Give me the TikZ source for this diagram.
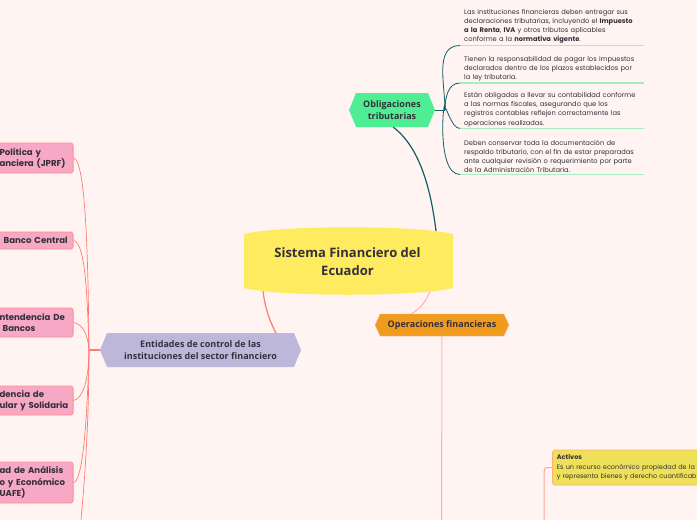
\documentclass[tikz,border=0pt]{standalone}
\usepackage{fontspec}
\setmainfont{Poppins}
\newfontfamily\titlefont{Open Sans}
\usetikzlibrary{shapes.symbols,backgrounds}
\definecolor{paper}{HTML}{FFF4F1}
\definecolor{ink}{HTML}{33303A}
\definecolor{teal}{HTML}{0F5F6B}
\definecolor{mint}{HTML}{A6EDC4}
\definecolor{redline}{HTML}{FF7B72}
\definecolor{paleline}{HTML}{FFB3AB}
\definecolor{pinkfill}{HTML}{F6A8C4}
\definecolor{greenfill}{HTML}{50EE94}
\definecolor{orangefill}{HTML}{F09A1E}
\definecolor{lilacfill}{HTML}{BDB8DA}
\definecolor{yellowfill}{HTML}{FFEB60}
\definecolor{activosfill}{HTML}{EFE05A}
\definecolor{activosline}{HTML}{FFB070}
\tikzset{
  hexbox/.style={shape=signal,signal to=east and west,signal pointer angle=135,inner sep=0pt,
    align=center,text=ink,font=\titlefont\bfseries\fontsize{9}{12}\selectfont},
  pinkbox/.style={draw=redline!85,fill=pinkfill,line width=0.8pt,rounded corners=2.5pt,
    anchor=east,align=left,text width=69.5pt,inner xsep=4pt,inner ysep=0pt,text=ink,
    font=\bfseries\fontsize{8.6}{11.6}\selectfont},
  notebox/.style={anchor=south west,align=left,text width=176pt,inner xsep=4pt,inner ysep=1.5pt,text=ink,
    font=\fontsize{6.7}{9.2}\selectfont},
  tealline/.style={draw=teal,line width=0.8pt},
  pinkline/.style={draw=redline,line width=0.7pt},
}
\begin{document}
\begin{tikzpicture}[x=1pt,y=-1pt]
    \useasboundingbox (0,0) rectangle (697,520);
    \clip (0,0) rectangle (697,520);
    % main nodes
    \node[minimum width=209pt,minimum height=68pt,inner sep=0pt,align=center,text=ink,
      font=\titlefont\bfseries\fontsize{13}{18}\selectfont] (center) at (347.5,261.5) {Sistema Financiero del\\Ecuador};
    \node[hexbox,fill=greenfill,minimum width=86pt,minimum height=34pt] (oblig) at (392,110) {Obligaciones\\tributarias};
    \node[hexbox,fill=orangefill,draw=paleline,minimum width=134pt,minimum height=22pt,signal pointer angle=130] (oper) at (442,325) {Operaciones financieras};
    \node[hexbox,fill=lilacfill,minimum width=201pt,minimum height=34pt] (entid) at (200.5,350) {Entidades de control de las\\instituciones del sector financiero};
    % notes on the right
    \node[notebox] (note1) at (460,45.5) {Las instituciones financieras deben entregar sus\\declaraciones tributarias, incluyendo el \textbf{Impuesto}\\\textbf{a la Renta}, \textbf{IVA} y otros tributos aplicables\\conforme a la \textbf{normativa vigente}.};
    \node[notebox] (note2) at (460,83) {Tienen la responsabilidad de pagar los impuestos\\declarados dentro de los plazos establecidos por\\la ley tributaria.};
    \node[notebox] (note3) at (460,128.5) {Están obligadas a llevar su contabilidad conforme\\a las normas fiscales, asegurando que los\\registros contables reflejen correctamente las\\operaciones realizadas.};
    \node[notebox] (note4) at (460,174.5) {Deben conservar toda la documentación de\\respaldo tributario, con el fin de estar preparadas\\ante cualquier revisión o requerimiento por parte\\de la Administración Tributaria.};
    % boxes on the left
    \node[pinkbox,minimum height=30pt] (pink1) at (73.5,158) {\strut Política y\\anciera (JPRF)};
    \node[pinkbox,minimum height=17pt] (pink2) at (73.5,240.5) {\hspace*{4pt}Banco Central};
    \node[pinkbox,minimum height=29pt] (pink3) at (73.5,322.5) {ntendencia De\\\hspace*{3pt}Bancos};
    \node[pinkbox,minimum height=29pt] (pink4) at (73.5,400.5) {dencia de\\ular y Solidaria};
    \node[pinkbox,minimum height=41pt] (pink5) at (73.5,482.5) {ad de Análisis\\o y Económico\\UAFE)};
    % box at the lower right
    \node[draw=activosline,fill=activosfill,rounded corners=3pt,line width=0.8pt,
      anchor=west,align=left,minimum height=35pt,text width=170pt,inner xsep=4.5pt,inner ysep=0pt,text=ink,
      font=\fontsize{6.5}{9.6}\selectfont] (activos) at (552,467.5) {\textbf{Activos}\\Es un recurso económico propiedad de la\\y representa bienes y derecho cuantificab};
    \coordinate (obfork) at (445,110);
    \coordinate (pinkfork) at (89,350);
    \coordinate (pinkend) at (80,530);
    \coordinate (operend) at (441.5,530);
    \coordinate (actend) at (544,530);
    \begin{scope}[on background layer]
        \fill[paper] (0,0) rectangle (697,520);
        % connectors
        \draw[teal,line width=1.2pt] (393,127) .. controls (420,147) and (431,190) .. (436,231);
        \draw[tealline,line width=1pt] (oblig.east) -- (obfork);
        \foreach \n in {note1,note2,note3,note4}
        {
        \draw[tealline] (obfork) to[out=90,in=180] (\n.south west);
        \draw[mint,line width=1.3pt] (\n.south west) -- (\n.south east);
        }
        \draw[redline,line width=1.2pt] (263,291) .. controls (265,308) and (270,322) .. (276,333);
        \draw[paleline,line width=1pt] (430,291) .. controls (426,302) and (420,309) .. (411,314);
        \draw[paleline,line width=1pt] (oper.south) -- (operend);
        \draw[redline,line width=1.2pt] (entid.west) -- (pinkfork);
        \draw[pinkline] (pink1.east) .. controls (84,160) and (88,230) .. (pinkfork);
        \draw[pinkline] (pink2.east) .. controls (84,243) and (87,280) .. (pinkfork);
        \draw[pinkline] (pink3.east) .. controls (83,324) and (88,335) .. (pinkfork);
        \draw[pinkline] (pink4.east) .. controls (84,399) and (89,375) .. (pinkfork);
        \draw[pinkline] (pink5.east) .. controls (82,482) and (87,430) .. (pinkfork);
        \draw[pinkline] (pinkfork) .. controls (89,420) and (85,480) .. (pinkend);
        \draw[redline!70,line width=1pt] (activos.west) -- (547,467.5) to[out=180,in=90] (544,472) -- (actend);
        % barrel behind the title
        \fill[yellowfill] (244,234) .. controls (280,225) and (417,225) .. (453,234)
          -- (453,288) .. controls (417,297) and (280,297) .. (244,288) -- cycle;
    \end{scope}
\end{tikzpicture}
\end{document}
